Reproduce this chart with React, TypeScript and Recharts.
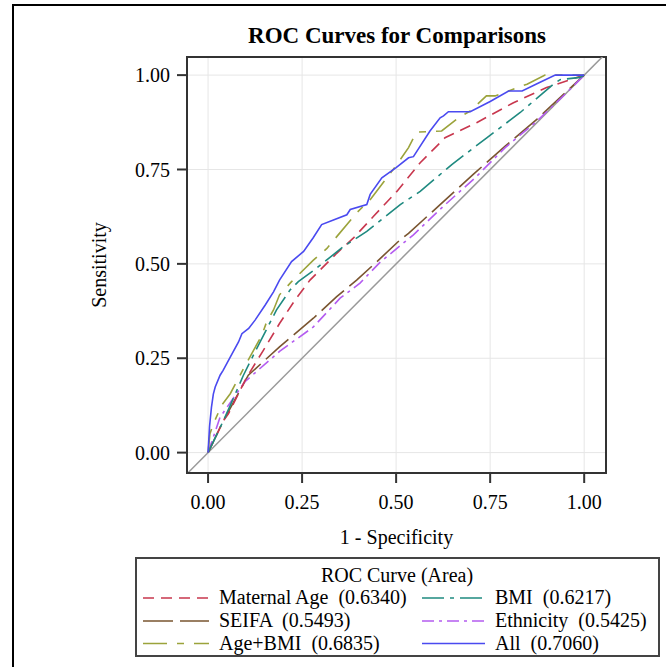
import { LineChart, Line, XAxis, YAxis, CartesianGrid, ReferenceLine, ReferenceArea } from 'recharts';

const SERIF = "'Liberation Serif', 'Times New Roman', serif";

// ROC points: false positive rate (1 - specificity) and sensitivity
const maternalFpr = [0, 0.041, 0.054, 0.103, 0.147, 0.19, 0.231, 0.271, 0.342, 0.386, 0.44, 0.502, 0.564, 0.612, 0.63, 0.714, 0.812, 0.9, 1];
const maternalTpr = [0, 0.085, 0.103, 0.2, 0.271, 0.342, 0.404, 0.457, 0.528, 0.568, 0.626, 0.692, 0.768, 0.816, 0.834, 0.874, 0.927, 0.967, 1];

const bmiFpr = [0, 0.041, 0.059, 0.094, 0.134, 0.182, 0.218, 0.24, 0.258, 0.289, 0.36, 0.422, 0.511, 0.564, 0.648, 0.741, 0.83, 0.918, 0.936, 0.989, 1];
const bmiTpr = [0, 0.085, 0.125, 0.205, 0.285, 0.378, 0.431, 0.453, 0.466, 0.489, 0.546, 0.586, 0.657, 0.692, 0.763, 0.834, 0.901, 0.976, 0.988, 0.994, 1];

const seifaFpr = [0, 0.041, 0.107, 0.19, 0.28, 0.342, 0.395, 0.449, 0.511, 0.533, 0.617, 0.705, 0.79, 0.874, 0.945, 1];
const seifaTpr = [0, 0.085, 0.205, 0.28, 0.356, 0.413, 0.457, 0.506, 0.564, 0.581, 0.657, 0.737, 0.812, 0.883, 0.949, 1];

const ethnicityFpr = [0, 0.032, 0.098, 0.19, 0.28, 0.351, 0.404, 0.457, 0.546, 0.626, 0.71, 0.79, 0.874, 0.954, 1];
const ethnicityTpr = [0, 0.094, 0.188, 0.268, 0.333, 0.409, 0.449, 0.504, 0.577, 0.653, 0.728, 0.808, 0.878, 0.954, 1];

const ageBmiFpr = [0, 0.005, 0.014, 0.036, 0.059, 0.094, 0.143, 0.156, 0.174, 0.19, 0.222, 0.28, 0.316, 0.395, 0.431, 0.502, 0.533, 0.551, 0.555, 0.621, 0.666, 0.697, 0.74, 0.763, 0.799, 0.848, 0.896, 1];
const ageBmiTpr = [0, 0.05, 0.076, 0.125, 0.156, 0.222, 0.311, 0.347, 0.378, 0.418, 0.453, 0.51, 0.541, 0.635, 0.67, 0.763, 0.808, 0.843, 0.849, 0.852, 0.887, 0.905, 0.945, 0.945, 0.958, 0.976, 1, 1];

const allFpr = [0, 0.004, 0.009, 0.014, 0.019, 0.032, 0.04, 0.059, 0.081, 0.09, 0.108, 0.125, 0.152, 0.174, 0.19, 0.222, 0.254, 0.28, 0.302, 0.335, 0.369, 0.378, 0.422, 0.431, 0.462, 0.5, 0.533, 0.546, 0.59, 0.617, 0.626, 0.639, 0.697, 0.75, 0.799, 0.835, 0.88, 0.923, 1];
const allTpr = [0, 0.07, 0.12, 0.155, 0.174, 0.205, 0.218, 0.253, 0.293, 0.315, 0.329, 0.351, 0.391, 0.426, 0.457, 0.506, 0.533, 0.57, 0.604, 0.617, 0.63, 0.644, 0.657, 0.684, 0.728, 0.755, 0.781, 0.784, 0.852, 0.887, 0.892, 0.903, 0.903, 0.93, 0.958, 0.958, 0.98, 1, 1];

const axisTicks = [0, 0.25, 0.5, 0.75, 1];

const toPoints = (fpr: number[], tpr: number[]) => fpr.map((x, i) => ({ fpr: x, tpr: tpr[i] }));

// draw order: back to front
const series = [
  { key: 'seifa', name: 'SEIFA', area: '0.5493', color: '#7a5530', dash: '30 7', data: toPoints(seifaFpr, seifaTpr) },
  { key: 'eth', name: 'Ethnicity', area: '0.5425', color: '#b45cf0', dash: '12 5 3 5', data: toPoints(ethnicityFpr, ethnicityTpr) },
  { key: 'mat', name: 'Maternal Age', area: '0.6340', color: '#c8374e', dash: '11 7', data: toPoints(maternalFpr, maternalTpr) },
  { key: 'bmi', name: 'BMI', area: '0.6217', color: '#1f8a80', dash: '22 6 4 6', data: toPoints(bmiFpr, bmiTpr) },
  { key: 'agebmi', name: 'Age+BMI', area: '0.6835', color: '#9ba33b', dash: '24 10 7 10', data: toPoints(ageBmiFpr, ageBmiTpr) },
  { key: 'all', name: 'All', area: '0.7060', color: '#4a4af0', dash: undefined, data: toPoints(allFpr, allTpr) },
];

// legend grid: rows of [left, right]
const legendRows = [
  ['mat', 'bmi'],
  ['seifa', 'eth'],
  ['agebmi', 'all'],
];

const X_DOMAIN = [-0.056, 1.058];
const Y_DOMAIN = [-0.054, 1.048];

function LegendBox() {
  const rowY = [47, 70, 92.5];
  return (
    <svg
      width={525}
      height={100}
      style={{ position: 'absolute', left: 135, top: 557, overflow: 'visible' }}
    >
      <rect x={1} y={1} width={523} height={98} fill="#fff" stroke="#444" strokeWidth={2} />
      <text x={262} y={25} textAnchor="middle" fontSize={20} fontFamily={SERIF} fill="#000">
        ROC Curve (Area)
      </text>
      {legendRows.map((row, r) =>
        row.map((k, c) => {
          const s = series.find((d) => d.key === k)!;
          const x0 = c === 0 ? 8 : 287;
          const len = c === 0 ? 66 : 63;
          return (
            <g key={k}>
              <line
                x1={x0}
                x2={x0 + len}
                y1={rowY[r] - 6}
                y2={rowY[r] - 6}
                stroke={s.color}
                strokeWidth={1.5}
                strokeDasharray={s.dash}
              />
              <text
                x={x0 + len + 10}
                y={rowY[r]}
                fontSize={20}
                fontFamily={SERIF}
                fill="#000"
                style={{ whiteSpace: 'pre' }}
              >
                {`${s.name}  (${s.area})`}
              </text>
            </g>
          );
        })
      )}
    </svg>
  );
}

export default function App() {
  return (
    <div style={{ position: 'absolute', left: 0, top: 0, width: 666, height: 667, background: '#fff', overflow: 'hidden' }}>
      <svg width={666} height={667} style={{ position: 'absolute', left: 0, top: 0 }}>
        <line x1={13} y1={5} x2={13} y2={667} stroke="#000" strokeWidth={2} />
        <line x1={12} y1={5} x2={666} y2={5} stroke="#000" strokeWidth={2} />
        <text x={397} y={42.5} textAnchor="middle" fontSize={23} fontWeight="bold" fontFamily={SERIF} fill="#000">
          ROC Curves for Comparisons
        </text>
      </svg>
      <div style={{ position: 'absolute', left: 0, top: 0 }}>
        <LineChart width={666} height={667} margin={{ top: 57, right: 60, bottom: 0, left: 0 }} style={{ fontFamily: SERIF }}>
          <CartesianGrid stroke="#e6e6e6" strokeWidth={1} />
          <XAxis
            type="number"
            dataKey="fpr"
            domain={X_DOMAIN}
            allowDataOverflow
            ticks={axisTicks}
            tickFormatter={(v: number) => v.toFixed(2)}
            height={194}
            tickSize={10}
            tickMargin={12}
            tick={{ fill: '#000', fontSize: 20, fontFamily: SERIF }}
            tickLine={{ stroke: '#333', strokeWidth: 2 }}
            axisLine={{ stroke: '#333', strokeWidth: 2 }}
            label={{ value: '1 - Specificity', position: 'insideTop', offset: 57, fill: '#000', fontSize: 20, fontFamily: SERIF }}
          />
          <YAxis
            type="number"
            domain={Y_DOMAIN}
            allowDataOverflow
            ticks={axisTicks}
            tickFormatter={(v: number) => v.toFixed(2)}
            width={187}
            tickSize={10}
            tickMargin={7}
            tick={{ fill: '#000', fontSize: 20, fontFamily: SERIF }}
            tickLine={{ stroke: '#333', strokeWidth: 2 }}
            axisLine={{ stroke: '#333', strokeWidth: 2 }}
            label={{ value: 'Sensitivity', angle: -90, position: 'center', dx: 5, fill: '#000', fontSize: 20, fontFamily: SERIF }}
          />
          <ReferenceLine
            segment={[
              { x: -0.06, y: -0.06 },
              { x: 1.06, y: 1.06 },
            ]}
            stroke="#999"
            strokeWidth={1.5}
            ifOverflow="hidden"
          />
          {series.map((s) => (
            <Line
              key={s.key}
              data={s.data}
              dataKey="tpr"
              name={s.name}
              type="linear"
              stroke={s.color}
              strokeWidth={1.6}
              strokeDasharray={s.dash}
              dot={false}
              activeDot={false}
              isAnimationActive={false}
            />
          ))}
          <ReferenceArea
            x1={X_DOMAIN[0]}
            x2={X_DOMAIN[1]}
            y1={Y_DOMAIN[0]}
            y2={Y_DOMAIN[1]}
            fill="none"
            stroke="#333"
            strokeWidth={2}
            ifOverflow="visible"
          />
        </LineChart>
      </div>
      <LegendBox />
    </div>
  );
}
